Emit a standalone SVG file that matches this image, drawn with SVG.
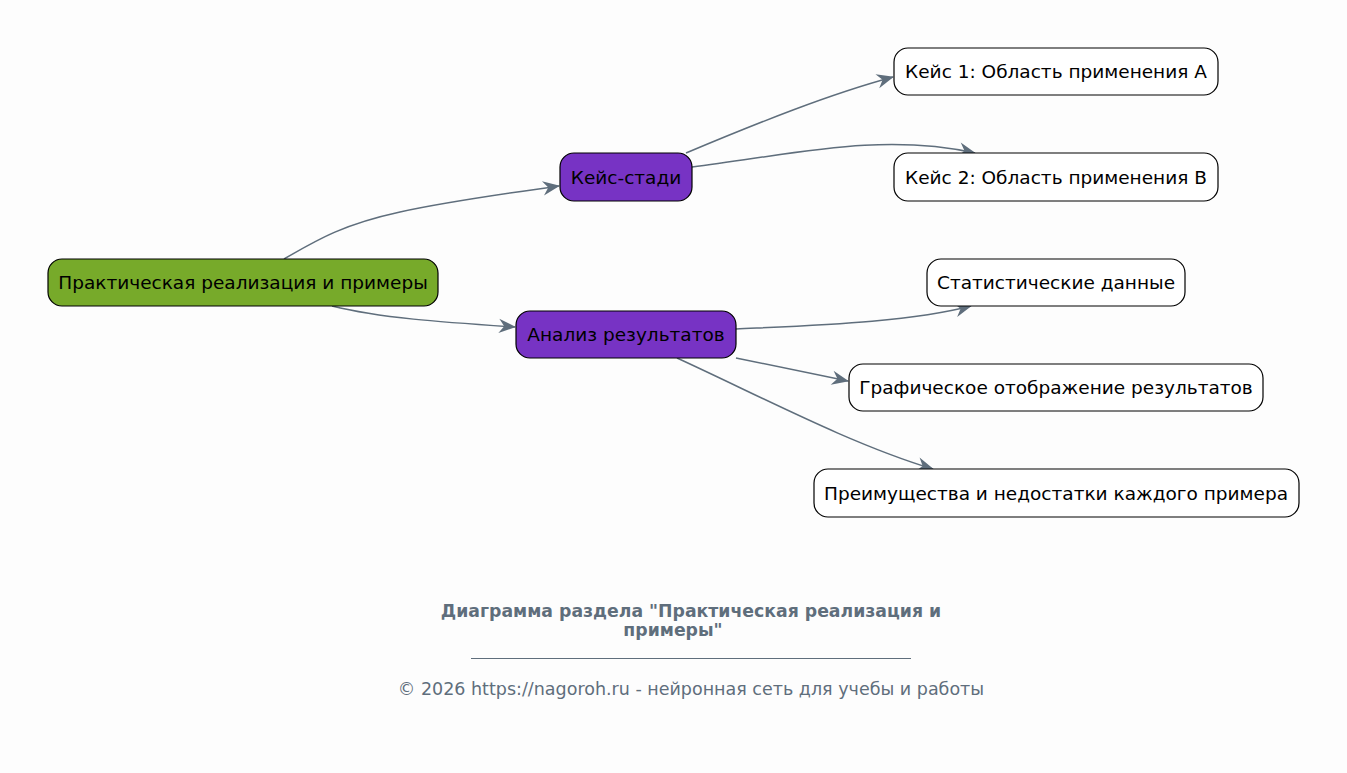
<svg xmlns="http://www.w3.org/2000/svg" width="1347" height="773" viewBox="0 0 1347 773">
<style>
.n rect{stroke:#000;stroke-width:1.2}
.n text{font-family:"DejaVu Sans",sans-serif;font-size:18.5px;fill:#000;text-anchor:middle;dominant-baseline:central}
.c path{fill:none;stroke:#5f6e7c;stroke-width:1.5}
.leaf{fill:#fff}
.root{fill:#77aa2a}
.mid{fill:#7733c4}
.ft{font-family:"DejaVu Sans",sans-serif;fill:#5f6e7c;text-anchor:middle}
</style>
<defs>
<marker id="ah" viewBox="0 0 20 20" refX="19" refY="10" markerWidth="18" markerHeight="18" markerUnits="userSpaceOnUse" orient="auto">
<path d="M1,2 L20,10 L1,18 L7,10 Z" fill="#5f6e7c" stroke="none"/>
</marker>
</defs>
<rect width="1347" height="773" fill="#fdfdfd"/>
<g class="c">
<path d="M284,259 C320,238 345,224 400,212 C450,201 510,193 559,186" marker-end="url(#ah)"/>
<path d="M332,306 C380,318 440,322 515,327" marker-end="url(#ah)"/>
<path d="M686,153 C760,122 830,94 893,77" marker-end="url(#ah)"/>
<path d="M692,167 C790,155 880,132 975,153" marker-end="url(#ah)"/>
<path d="M736,329 C820,325 910,322 971,306" marker-end="url(#ah)"/>
<path d="M736,358 L848,381" marker-end="url(#ah)"/>
<path d="M677,358 C760,396 850,444 933,469" marker-end="url(#ah)"/>
</g>
<g id="root" class="n"><rect class="root" x="48" y="259" width="390" height="47" rx="14"/><text x="243" y="282.5">Практическая реализация и примеры</text></g>
<g id="case" class="n"><rect class="mid" x="560" y="153" width="132" height="48" rx="14"/><text x="626" y="177">Кейс-стади</text></g>
<g id="analysis" class="n"><rect class="mid" x="516" y="311" width="220" height="47" rx="14"/><text x="626" y="334.5">Анализ результатов</text></g>
<g id="case1" class="n"><rect class="leaf" x="894" y="48" width="324" height="47" rx="14"/><text x="1056" y="71.5">Кейс 1: Область применения A</text></g>
<g id="case2" class="n"><rect class="leaf" x="894" y="153" width="324" height="48" rx="14"/><text x="1056" y="177">Кейс 2: Область применения B</text></g>
<g id="stat" class="n"><rect class="leaf" x="927" y="259" width="258" height="47" rx="14"/><text x="1056" y="282.5">Статистические данные</text></g>
<g id="graph" class="n"><rect class="leaf" x="849" y="364" width="414" height="47" rx="14"/><text x="1056" y="387.5">Графическое отображение результатов</text></g>
<g id="pros" class="n"><rect class="leaf" x="814" y="469" width="485" height="48" rx="14"/><text x="1056" y="493">Преимущества и недостатки каждого примера</text></g>
<g id="footer">
<text class="ft" x="691" y="617" font-size="17.3" font-weight="bold">Диаграмма раздела "Практическая реализация и</text>
<text class="ft" x="673" y="636" font-size="17.3" font-weight="bold">примеры"</text>
<line x1="471" y1="658.5" x2="911" y2="658.5" stroke="#5f6e7c" stroke-width="1"/>
<text class="ft" x="691" y="695" font-size="17.5">© 2026 https://nagoroh.ru - нейронная сеть для учебы и работы</text>
</g>
</svg>
